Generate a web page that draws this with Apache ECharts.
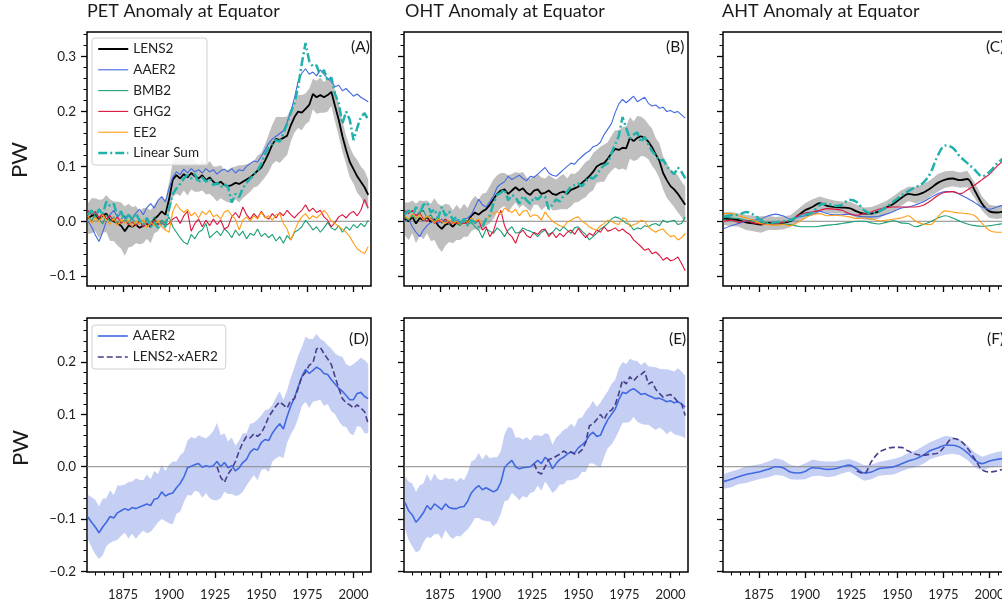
<!DOCTYPE html>
<html><head><meta charset="utf-8">
<script src="https://cdn.jsdelivr.net/npm/echarts@6/dist/echarts.min.js"></script>
<style>html,body{margin:0;padding:0;background:#fff}#c{width:1002px;height:605px}</style>
</head><body><div id="c"></div>
<script>
// ---------- x positions (years) ----------
const yearsAnnual = []; for (let y = 1856; y <= 2008; y += 2) yearsAnnual.push(y);
const yearsSmooth = []; for (let y = 1856; y <= 2008; y += 4) yearsSmooth.push(y);
const yearsX2 = []; for (let y = 1926; y <= 2008; y += 2) yearsX2.push(y);
const yearsX4 = []; for (let y = 1928; y <= 2008; y += 4) yearsX4.push(y);

// ---------- tick labels ----------
const xMajor = [1875, 1900, 1925, 1950, 1975, 2000];
const xMinor = [1860,1865,1870,1880,1885,1890,1895,1905,1910,1915,1920,1930,1935,1940,1945,1955,1960,1965,1970,1980,1985,1990,1995,2005];
const yMajorTop = [-0.1, 0, 0.1, 0.2, 0.3];
const yMinorTop = [-0.08,-0.06,-0.04,-0.02,0.02,0.04,0.06,0.08,0.12,0.14,0.16,0.18,0.22,0.24,0.26,0.28,0.32,0.34];
const yMajorBot = [-0.2, -0.1, 0, 0.1, 0.2];
const yMinorBot = [-0.18,-0.16,-0.14,-0.12,-0.08,-0.06,-0.04,-0.02,0.02,0.04,0.06,0.08,0.12,0.14,0.16,0.18,0.22,0.24,0.26,0.28];

// ---------- (A) PET ----------
const petLENS2 = [0.005,0.010,0.012,0.004,0.010,0.014,0.002,0.000,-0.004,-0.008,
-0.018,-0.008,-0.010,-0.006,-0.012,-0.008,-0.004,-0.010,0.004,0.010,
0.018,0.012,0.040,0.076,0.084,0.078,0.086,0.080,0.088,0.082,
0.078,0.084,0.075,0.080,0.072,0.068,0.072,0.066,0.064,0.066,
0.070,0.068,0.072,0.076,0.080,0.086,0.092,0.098,0.110,0.124,
0.140,0.150,0.148,0.152,0.156,0.175,0.190,0.200,0.198,0.205,
0.212,0.232,0.226,0.230,0.226,0.230,0.236,0.210,0.185,0.155,
0.130,0.108,0.095,0.082,0.072,0.062,0.048];
const petSpread = [0.028,0.032,0.030,0.035,0.030,0.034,0.038,0.036,0.040,0.042,
0.045,0.040,0.036,0.034,0.030,0.032,0.028,0.030,0.026,0.028,
0.025,0.028,0.030,0.032,0.034,0.032,0.030,0.033,0.030,0.028,
0.024,0.028,0.026,0.030,0.028,0.032,0.030,0.028,0.030,0.032,
0.030,0.034,0.030,0.028,0.026,0.024,0.028,0.026,0.030,0.034,
0.036,0.040,0.042,0.038,0.035,0.030,0.028,0.030,0.032,0.028,
0.030,0.028,0.030,0.032,0.028,0.030,0.026,0.028,0.030,0.028,
0.026,0.028,0.026,0.030,0.028,0.030,0.028];
const petAAER2 = [0.000,-0.010,-0.025,-0.037,-0.020,0.000,0.012,0.020,0.008,0.015,
0.005,0.012,0.004,0.015,0.022,0.012,0.025,0.032,0.024,0.038,
0.045,0.035,0.060,0.080,0.090,0.085,0.095,0.088,0.096,0.090,
0.094,0.088,0.096,0.090,0.094,0.086,0.092,0.095,0.090,0.096,
0.088,0.094,0.092,0.100,0.105,0.110,0.108,0.118,0.130,0.142,
0.150,0.155,0.160,0.165,0.180,0.200,0.225,0.255,0.270,0.278,
0.268,0.272,0.265,0.276,0.268,0.260,0.255,0.245,0.248,0.238,
0.242,0.235,0.228,0.232,0.226,0.222,0.218];
const petBMB2 = [0.010,0.000,0.015,0.005,-0.005,0.012,0.000,0.008,-0.006,0.004,
0.010,-0.004,0.006,-0.008,0.002,-0.010,0.004,-0.004,0.008,-0.006,
0.002,-0.004,0.008,-0.010,-0.020,-0.030,-0.038,-0.042,-0.024,-0.032,
-0.020,-0.016,-0.004,-0.030,-0.024,-0.018,-0.026,-0.014,-0.020,-0.030,
-0.016,-0.026,-0.018,-0.032,-0.022,-0.026,-0.014,-0.028,-0.022,-0.030,
-0.024,-0.036,-0.028,-0.040,-0.026,-0.034,-0.020,-0.016,-0.010,0.002,
-0.006,-0.016,-0.010,-0.020,-0.012,-0.002,-0.012,-0.016,-0.008,-0.020,
-0.010,-0.016,-0.006,-0.012,-0.004,-0.010,0.002];
const petGHG2 = [0.020,0.012,0.018,0.006,0.014,0.004,0.010,0.000,0.008,-0.004,
0.002,-0.006,-0.002,-0.008,0.000,-0.010,-0.004,-0.008,0.002,-0.006,
-0.002,-0.008,-0.004,0.004,0.008,-0.004,0.010,0.018,-0.018,-0.004,
0.004,-0.010,0.002,-0.008,0.004,-0.006,0.002,-0.014,-0.010,0.008,
0.016,0.006,0.026,0.012,0.004,0.014,0.006,0.018,0.008,0.004,
0.014,0.006,0.016,0.010,0.020,0.012,0.006,0.014,0.020,0.030,
0.018,0.024,0.016,0.020,0.008,0.002,-0.010,-0.002,0.008,0.012,
0.006,0.014,0.018,0.010,0.020,0.040,0.024];
const petEE2 = [0.010,-0.004,0.008,-0.002,0.012,0.002,-0.006,0.006,-0.008,0.004,
-0.004,0.002,-0.010,0.000,-0.006,0.004,-0.012,-0.002,-0.008,0.002,
-0.010,-0.016,-0.020,0.018,0.032,0.022,0.016,0.022,0.010,0.016,
0.006,0.018,0.012,0.020,0.008,0.012,0.004,0.017,0.020,0.010,
0.004,-0.016,0.002,0.008,0.000,0.010,0.004,0.017,0.006,0.010,
0.002,0.012,0.014,-0.004,-0.014,-0.034,-0.018,-0.002,0.008,0.014,
0.004,0.010,0.006,0.012,0.020,0.012,0.000,-0.004,-0.010,-0.014,
-0.020,-0.028,-0.040,-0.050,-0.055,-0.059,-0.046];
const petLinSum = [0.012,0.020,0.008,0.022,0.012,0.036,0.028,0.032,0.010,0.018,
0.000,0.012,0.004,0.014,0.002,-0.006,0.006,-0.010,-0.002,-0.012,
-0.004,-0.010,0.024,0.050,0.060,0.068,0.078,0.084,0.078,0.086,
0.070,0.080,0.072,0.078,0.066,0.070,0.062,0.068,0.062,0.034,
0.050,0.044,0.060,0.070,0.078,0.084,0.093,0.104,0.122,0.134,
0.142,0.148,0.145,0.160,0.178,0.198,0.215,0.245,0.288,0.325,
0.292,0.282,0.284,0.264,0.276,0.256,0.262,0.232,0.215,0.178,
0.200,0.185,0.148,0.170,0.190,0.197,0.185];

// ---------- (B) OHT ----------
const ohtLENS2 = [0.004,0.000,0.008,-0.004,0.006,0.002,0.008,-0.002,0.004,-0.008,
-0.014,-0.006,-0.004,-0.010,-0.002,-0.006,0.002,-0.002,0.010,0.016,
0.012,0.018,0.022,0.030,0.040,0.050,0.056,0.058,0.050,0.056,
0.062,0.056,0.060,0.052,0.048,0.056,0.058,0.050,0.052,0.056,
0.050,0.048,0.052,0.054,0.050,0.057,0.060,0.063,0.070,0.076,
0.082,0.090,0.100,0.104,0.106,0.114,0.124,0.132,0.130,0.134,
0.133,0.152,0.146,0.152,0.155,0.152,0.145,0.135,0.122,0.110,
0.088,0.075,0.064,0.058,0.050,0.040,0.030];
const ohtSpread = [0.030,0.034,0.030,0.036,0.032,0.035,0.030,0.034,0.038,0.040,
0.042,0.038,0.034,0.030,0.032,0.028,0.030,0.026,0.028,0.030,
0.028,0.032,0.030,0.034,0.036,0.034,0.032,0.030,0.034,0.030,
0.028,0.032,0.030,0.028,0.030,0.026,0.028,0.030,0.026,0.028,
0.030,0.028,0.030,0.032,0.028,0.030,0.026,0.028,0.030,0.032,
0.030,0.034,0.030,0.032,0.034,0.030,0.032,0.034,0.036,0.038,
0.040,0.038,0.036,0.040,0.036,0.034,0.032,0.034,0.030,0.032,
0.030,0.032,0.030,0.032,0.034,0.032,0.034];
const ohtAAER2 = [0.000,0.004,-0.010,-0.020,-0.028,-0.016,-0.008,-0.002,0.002,-0.004,
0.004,-0.002,0.000,-0.004,0.002,-0.002,0.004,0.006,0.012,0.026,
0.040,0.030,0.026,0.036,0.046,0.062,0.068,0.072,0.082,0.076,
0.080,0.084,0.078,0.074,0.082,0.080,0.086,0.092,0.098,0.088,
0.084,0.082,0.088,0.094,0.100,0.106,0.104,0.112,0.118,0.124,
0.128,0.136,0.138,0.144,0.158,0.168,0.178,0.198,0.214,0.222,
0.216,0.222,0.228,0.218,0.222,0.226,0.215,0.210,0.212,0.206,
0.208,0.200,0.202,0.198,0.200,0.194,0.188];
const ohtBMB2 = [0.008,0.002,0.012,0.004,0.016,0.020,0.006,0.012,0.000,0.008,
-0.004,0.004,-0.006,0.002,-0.004,-0.008,0.000,-0.006,-0.002,-0.010,
-0.016,-0.030,-0.014,-0.018,-0.022,-0.012,-0.018,-0.028,-0.016,-0.010,
-0.022,-0.020,-0.012,-0.016,-0.018,-0.022,-0.028,-0.020,-0.016,-0.024,
-0.020,-0.012,-0.018,-0.010,-0.016,-0.022,-0.012,-0.010,-0.018,-0.024,
-0.034,-0.028,-0.022,-0.014,-0.010,-0.004,0.004,0.008,0.006,0.002,
-0.004,-0.006,-0.016,-0.012,-0.014,-0.008,-0.010,-0.006,-0.004,-0.008,
0.002,-0.002,0.000,0.002,-0.006,-0.004,0.008];
const ohtGHG2 = [0.020,0.014,0.020,0.010,0.016,0.004,0.000,0.006,-0.004,0.002,
-0.002,0.004,-0.004,-0.002,-0.004,-0.003,-0.004,-0.002,0.002,-0.004,
0.002,-0.016,-0.010,-0.028,-0.018,0.004,0.020,-0.008,-0.022,-0.028,
-0.040,-0.022,-0.016,-0.026,-0.030,-0.020,-0.024,-0.016,-0.014,-0.028,
-0.020,-0.030,-0.022,-0.028,-0.020,-0.016,-0.024,-0.013,-0.022,-0.030,
-0.022,-0.026,-0.016,-0.020,-0.010,-0.018,-0.016,-0.012,-0.018,-0.014,
-0.020,-0.024,-0.034,-0.040,-0.046,-0.053,-0.050,-0.059,-0.056,-0.062,
-0.071,-0.066,-0.072,-0.070,-0.065,-0.077,-0.090];
const ohtEE2 = [0.010,0.004,0.014,0.006,0.012,0.002,0.010,0.004,-0.002,0.004,
0.000,-0.004,0.002,-0.004,0.000,-0.006,0.002,-0.002,0.006,0.000,
0.004,-0.006,0.002,0.010,0.014,0.018,0.012,0.024,0.020,0.016,
0.022,0.010,0.018,0.020,0.008,0.012,0.010,0.002,0.017,0.008,
0.000,-0.004,-0.008,-0.010,-0.002,0.002,0.006,0.008,0.000,-0.004,
-0.010,-0.014,-0.016,-0.008,-0.004,0.002,0.000,-0.004,-0.006,0.006,
0.004,-0.010,-0.006,-0.004,0.002,0.000,-0.010,-0.016,-0.020,-0.016,
-0.014,-0.022,-0.028,-0.026,-0.034,-0.030,-0.022];
const ohtLinSum = [0.012,0.020,0.008,0.026,0.014,0.030,0.034,0.016,0.022,0.006,
0.026,0.010,0.018,0.002,0.008,-0.004,0.004,-0.008,0.002,-0.002,
-0.010,-0.010,0.004,0.010,0.032,0.048,0.052,0.058,0.038,0.048,
0.044,0.032,0.046,0.038,0.032,0.044,0.040,0.046,0.045,0.022,
0.030,0.040,0.036,0.046,0.054,0.063,0.066,0.069,0.064,0.072,
0.080,0.078,0.084,0.096,0.102,0.106,0.124,0.140,0.156,0.190,
0.170,0.150,0.158,0.162,0.144,0.154,0.140,0.128,0.120,0.110,
0.112,0.100,0.092,0.086,0.098,0.090,0.078];

// ---------- (C) AHT (4-year samples) ----------
const ahtLENS2 = [0.005,0.004,0.002,-0.002,-0.004,-0.006,-0.003,-0.004,-0.003,0.000,0.010,0.020,0.026,0.033,0.028,0.026,0.025,0.024,0.018,0.014,0.014,0.018,0.025,0.032,0.042,0.050,0.048,0.052,0.060,0.070,0.076,0.078,0.075,0.077,0.056,0.032,0.018,0.016,0.018];
const ahtSpread = [0.012,0.013,0.012,0.014,0.014,0.015,0.013,0.012,0.012,0.011,0.012,0.013,0.014,0.012,0.013,0.012,0.011,0.012,0.012,0.011,0.012,0.013,0.012,0.014,0.014,0.013,0.015,0.016,0.015,0.016,0.015,0.014,0.014,0.015,0.014,0.013,0.012,0.012,0.012];
const ahtAAER2 = [-0.013,-0.008,-0.004,0.000,0.002,0.004,0.010,0.013,0.010,0.004,0.008,0.010,0.012,0.018,0.014,0.012,0.012,0.013,0.010,0.008,0.008,0.009,0.013,0.018,0.024,0.026,0.030,0.035,0.043,0.050,0.054,0.054,0.049,0.042,0.034,0.026,0.022,0.026,0.030];
const ahtBMB2 = [0.008,0.006,0.005,0.002,0.000,-0.002,-0.004,-0.005,-0.005,-0.006,-0.009,-0.010,-0.010,-0.009,-0.007,-0.006,-0.004,-0.002,0.000,0.000,-0.003,-0.005,-0.002,0.001,-0.003,-0.004,-0.010,-0.006,-0.001,0.006,0.010,0.006,0.000,-0.005,-0.008,-0.009,-0.008,-0.006,-0.004];
const ahtGHG2 = [0.000,0.002,-0.002,0.001,-0.003,-0.005,-0.006,-0.004,-0.002,0.002,0.010,0.015,0.017,0.020,0.023,0.022,0.020,0.014,0.011,0.014,0.017,0.022,0.025,0.026,0.026,0.026,0.026,0.029,0.037,0.047,0.053,0.054,0.050,0.057,0.066,0.076,0.086,0.100,0.112];
const ahtEE2 = [0.014,0.014,0.010,0.006,0.002,-0.004,-0.006,-0.007,-0.006,-0.008,-0.002,0.006,0.012,0.014,0.010,0.011,0.010,0.008,0.005,0.006,0.004,0.001,0.002,0.004,0.006,0.010,0.000,-0.005,-0.006,0.008,0.019,0.017,0.015,0.014,0.010,-0.004,-0.017,-0.020,-0.020];
const ahtLinSum = [0.008,0.011,0.012,0.017,0.012,0.002,-0.003,-0.002,0.000,0.002,0.008,0.012,0.016,0.030,0.032,0.028,0.030,0.039,0.035,0.020,0.014,0.018,0.026,0.036,0.046,0.055,0.062,0.070,0.088,0.120,0.138,0.134,0.118,0.106,0.094,0.082,0.090,0.105,0.116];

// ---------- (D) PET, AAER2 vs LENS2-xAER2 ----------
const dAAER2 = [-0.096,-0.106,-0.115,-0.126,-0.115,-0.106,-0.095,-0.098,-0.088,-0.084,
-0.080,-0.083,-0.078,-0.080,-0.077,-0.074,-0.071,-0.074,-0.062,-0.060,
-0.048,-0.056,-0.052,-0.050,-0.040,-0.032,-0.020,-0.002,0.001,0.004,
0.006,-0.001,0.002,0.000,0.002,0.010,0.000,0.008,-0.002,0.002,
-0.008,-0.002,0.008,0.014,0.028,0.034,0.032,0.046,0.052,0.050,
0.064,0.074,0.082,0.072,0.096,0.116,0.132,0.152,0.172,0.186,
0.178,0.184,0.190,0.186,0.178,0.176,0.166,0.158,0.150,0.144,
0.136,0.128,0.128,0.140,0.142,0.134,0.130];
const dSpread = [0.042,0.048,0.052,0.050,0.054,0.046,0.050,0.044,0.052,0.048,
0.046,0.054,0.050,0.058,0.052,0.048,0.056,0.050,0.054,0.046,
0.052,0.048,0.056,0.060,0.050,0.054,0.048,0.052,0.056,0.050,
0.054,0.058,0.052,0.060,0.066,0.074,0.060,0.056,0.050,0.054,
0.048,0.052,0.056,0.050,0.054,0.050,0.058,0.052,0.056,0.060,
0.054,0.058,0.062,0.056,0.050,0.054,0.058,0.060,0.056,0.062,
0.066,0.060,0.064,0.058,0.062,0.056,0.060,0.058,0.062,0.066,
0.060,0.064,0.068,0.062,0.066,0.070,0.066];
const dXAER2 = [0.000,-0.020,-0.030,-0.014,-0.004,0.010,0.030,0.046,0.058,0.055,
0.063,0.058,0.064,0.078,0.095,0.106,0.116,0.124,0.118,0.112,
0.126,0.130,0.150,0.172,0.180,0.194,0.198,0.225,0.228,0.216,
0.206,0.195,0.172,0.150,0.130,0.122,0.118,0.112,0.118,0.112,
0.105,0.082];

// ---------- (E) OHT ----------
const eAAER2 = [-0.068,-0.084,-0.092,-0.106,-0.098,-0.088,-0.074,-0.082,-0.071,-0.076,
-0.082,-0.071,-0.078,-0.080,-0.080,-0.077,-0.076,-0.066,-0.050,-0.042,
-0.036,-0.044,-0.040,-0.044,-0.048,-0.044,-0.030,-0.002,0.006,0.012,
0.000,-0.004,-0.002,-0.001,0.000,0.006,0.012,0.006,0.018,0.012,
-0.004,0.006,0.014,0.018,0.024,0.028,0.026,0.036,0.042,0.048,
0.060,0.066,0.058,0.060,0.076,0.090,0.100,0.110,0.128,0.142,
0.140,0.146,0.149,0.144,0.138,0.140,0.136,0.133,0.130,0.131,
0.128,0.124,0.126,0.122,0.124,0.120,0.114];
const eSpread = [0.050,0.056,0.060,0.058,0.062,0.056,0.060,0.054,0.058,0.052,
0.056,0.050,0.054,0.058,0.052,0.056,0.050,0.054,0.060,0.056,
0.062,0.058,0.064,0.060,0.066,0.062,0.060,0.064,0.070,0.062,
0.056,0.060,0.054,0.058,0.050,0.054,0.048,0.052,0.046,0.050,
0.046,0.050,0.048,0.052,0.050,0.054,0.050,0.056,0.052,0.058,
0.054,0.060,0.056,0.062,0.058,0.054,0.058,0.056,0.060,0.058,
0.056,0.060,0.054,0.058,0.056,0.060,0.056,0.058,0.060,0.056,
0.058,0.062,0.058,0.060,0.064,0.062,0.060];
const eXAER2 = [0.006,-0.010,-0.014,0.000,0.014,0.016,0.020,0.024,0.030,0.026,
0.028,0.024,0.026,0.032,0.046,0.078,0.082,0.090,0.100,0.090,
0.104,0.108,0.118,0.140,0.165,0.158,0.172,0.164,0.172,0.176,
0.182,0.158,0.162,0.148,0.140,0.133,0.136,0.138,0.132,0.124,
0.120,0.098];

// ---------- (F) AHT (4-year samples) ----------
const fAAER2 = [-0.028,-0.024,-0.019,-0.015,-0.012,-0.009,-0.005,0.000,-0.002,-0.010,-0.012,-0.009,-0.002,-0.003,-0.005,-0.004,0.000,0.003,-0.004,-0.012,-0.010,-0.004,-0.002,0.000,0.005,0.011,0.015,0.022,0.031,0.036,0.041,0.041,0.037,0.027,0.013,0.006,0.011,0.014,0.016];
const fSpread = [0.014,0.015,0.014,0.016,0.015,0.014,0.015,0.016,0.015,0.014,0.013,0.015,0.016,0.014,0.015,0.014,0.013,0.012,0.014,0.015,0.014,0.013,0.014,0.015,0.014,0.015,0.016,0.017,0.016,0.017,0.018,0.016,0.015,0.014,0.014,0.013,0.013,0.014,0.014];
const fXAER2 = [-0.008,-0.013,0.010,0.027,0.034,0.037,0.037,0.030,0.024,0.022,0.024,0.026,0.040,0.054,0.050,0.036,0.015,-0.006,-0.010,-0.008,-0.004];

// ---------- styling ----------
const FONT = 'Lato';
const TXT = '#222';
const C_LENS = '#000000', C_AAER = '#4169e1', C_BMB = '#1b9e77', C_GHG = '#dc143c', C_EE = '#ff9d14', C_SUM = '#20b2aa';
const C_XAER = '#483d8b', C_BAND_G = '#bfbfbf', C_BAND_B = '#c5cff4';
const xMin = 1855.5, xMax = 2009.5;
const topRange = [-0.118, 0.345], botRange = [-0.201, 0.284];

const grids = [
  {left: 87, top: 32}, {left: 404, top: 32}, {left: 723, top: 32},
  {left: 87, top: 318}, {left: 404, top: 318}, {left: 723, top: 318}
].map(g => ({left: g.left, top: g.top, width: 284, height: 254, show: true,
  borderColor: '#000', borderWidth: 1.5, backgroundColor: 'transparent',
  containLabel: false, outerBoundsMode: 'none'}));

const fmtY = v => (v < 0 ? '\u2212' : '') + Math.abs(v).toFixed(1);
const xAxis = [], yAxis = [];
const noLine = {show: false, onZero: false};
for (let g = 0; g < 6; g++) {
  const bottomRow = g >= 3, leftCol = g % 3 === 0;
  const rng = bottomRow ? botRange : topRange;
  xAxis.push({type: 'value', gridIndex: g, min: xMin, max: xMax, position: 'bottom',
    axisLine: noLine, splitLine: {show: false},
    axisTick: {show: true, customValues: xMajor, length: 6, lineStyle: {color: '#000', width: 1.3}},
    axisLabel: {show: bottomRow, customValues: xMajor, margin: 16, fontSize: 13, color: TXT, fontFamily: FONT,
      formatter: v => String(v)}});
  xAxis.push({type: 'value', gridIndex: g, min: xMin, max: xMax, position: 'bottom',
    axisLine: noLine, splitLine: {show: false}, axisLabel: {show: false},
    axisTick: {show: true, customValues: xMinor, length: 3.5, lineStyle: {color: '#000', width: 1}}});
  const ym = bottomRow ? yMajorBot : yMajorTop, yn = bottomRow ? yMinorBot : yMinorTop;
  yAxis.push({type: 'value', gridIndex: g, min: rng[0], max: rng[1], position: 'left',
    axisLine: noLine, splitLine: {show: false},
    axisTick: {show: true, customValues: ym, length: 6, lineStyle: {color: '#000', width: 1.3}},
    axisLabel: {show: leftCol, customValues: ym, margin: 11, fontSize: 13.5, color: TXT, fontFamily: FONT, formatter: fmtY}});
  yAxis.push({type: 'value', gridIndex: g, min: rng[0], max: rng[1], position: 'left',
    axisLine: noLine, splitLine: {show: false}, axisLabel: {show: false},
    axisTick: {show: true, customValues: yn, length: 3.5, lineStyle: {color: '#000', width: 1}}});
}

function line(g, name, xs, ys, color, width, dash, smooth) {
  return {type: 'line', name, xAxisIndex: 2 * g, yAxisIndex: 2 * g,
    data: xs.map((x, i) => [x, ys[i]]), symbol: 'none', showSymbol: false,
    smooth: smooth ? 0.35 : false, animation: false, silent: true, clip: true, z: 3,
    lineStyle: {color, width, type: dash || 'solid'}, itemStyle: {color}, emphasis: {disabled: true}};
}
function band(g, xs, mid, spr, color) {
  const data = xs.map((x, i) => [x, mid[i] - spr[i], mid[i] + spr[i]]);
  return {type: 'custom', xAxisIndex: 2 * g, yAxisIndex: 2 * g, silent: true, animation: false, z: 1,
    data, encode: {x: 0, y: [1, 2]},
    renderItem(params, api) {
      if (params.dataIndex !== 0) return null;
      const pts = [];
      for (let i = 0; i < data.length; i++) pts.push(api.coord([data[i][0], data[i][1]]));
      for (let i = data.length - 1; i >= 0; i--) pts.push(api.coord([data[i][0], data[i][2]]));
      return {type: 'polygon', shape: {points: pts}, style: {fill: color}};
    }};
}
function zero(g) {
  return {type: 'line', name: 'zero' + g, xAxisIndex: 2 * g, yAxisIndex: 2 * g,
    data: [[xMin, 0], [xMax, 0]], symbol: 'none', silent: true, animation: false, z: 2,
    lineStyle: {color: '#888', width: 1}};
}
const DASHDOT = [9, 3, 2, 3], DASH = [6, 3];

const series = [];
const topSets = [
  [petLENS2, petSpread, petAAER2, petBMB2, petGHG2, petEE2, petLinSum, yearsAnnual, false],
  [ohtLENS2, ohtSpread, ohtAAER2, ohtBMB2, ohtGHG2, ohtEE2, ohtLinSum, yearsAnnual, false],
  [ahtLENS2, ahtSpread, ahtAAER2, ahtBMB2, ahtGHG2, ahtEE2, ahtLinSum, yearsSmooth, true]
];
topSets.forEach((s, g) => {
  const [lens, spr, aaer, bmb, ghg, ee, sum, xs, sm] = s;
  series.push(band(g, xs, lens, spr, C_BAND_G));
  series.push(zero(g));
  series.push(line(g, 'LENS2', xs, lens, C_LENS, 1.8, null, sm));
  series.push(line(g, 'AAER2', xs, aaer, C_AAER, 1.1, null, sm));
  series.push(line(g, 'BMB2', xs, bmb, C_BMB, 1.1, null, sm));
  series.push(line(g, 'GHG2', xs, ghg, C_GHG, 1.1, null, sm));
  series.push(line(g, 'EE2', xs, ee, C_EE, 1.1, null, sm));
  series.push(line(g, 'Linear Sum', xs, sum, C_SUM, 2.5, DASHDOT, sm));
});
const botSets = [
  [dAAER2, dSpread, dXAER2, yearsAnnual, yearsX2, false],
  [eAAER2, eSpread, eXAER2, yearsAnnual, yearsX2, false],
  [fAAER2, fSpread, fXAER2, yearsSmooth, yearsX4, true]
];
botSets.forEach((s, k) => {
  const g = k + 3;
  const [aaer, spr, xaer, xs, xs2, sm] = s;
  series.push(band(g, xs, aaer, spr, C_BAND_B));
  series.push(zero(g));
  series.push(line(g, 'AAER2 ', xs, aaer, C_AAER, 1.6, null, sm));
  series.push(line(g, 'LENS2-xAER2', xs2, xaer, C_XAER, 1.6, DASH, sm));
});

const hiddenSymbol = {color: 'rgba(0,0,0,0)', borderColor: 'rgba(0,0,0,0)', borderWidth: 0, opacity: 0};
const legendCommon = {orient: 'vertical', itemWidth: 30, itemHeight: 14, selectedMode: false,
  backgroundColor: 'rgba(255,255,255,0.85)', borderColor: '#cfcfcf', borderWidth: 1, borderRadius: 3,
  itemStyle: hiddenSymbol,
  textStyle: {fontFamily: FONT, fontSize: 13.5, color: TXT}, z: 20};
const legend = [
  Object.assign({}, legendCommon, {left: 92, top: 38, padding: [4, 8, 5, 5], itemGap: 6.8,
    data: [
      {name: 'LENS2', itemStyle: hiddenSymbol, lineStyle: {color: C_LENS, width: 2}},
      {name: 'AAER2', itemStyle: hiddenSymbol, lineStyle: {color: C_AAER, width: 1.1}},
      {name: 'BMB2', itemStyle: hiddenSymbol, lineStyle: {color: C_BMB, width: 1.1}},
      {name: 'GHG2', itemStyle: hiddenSymbol, lineStyle: {color: C_GHG, width: 1.1}},
      {name: 'EE2', itemStyle: hiddenSymbol, lineStyle: {color: C_EE, width: 1.1}},
      {name: 'Linear Sum', itemStyle: hiddenSymbol, lineStyle: {color: C_SUM, width: 2.5, type: DASHDOT}}
    ]}),
  Object.assign({}, legendCommon, {left: 92, top: 325, padding: [4, 8, 5, 5], itemGap: 7,
    data: [
      {name: 'AAER2 ', itemStyle: hiddenSymbol, lineStyle: {color: C_AAER, width: 1.6}},
      {name: 'LENS2-xAER2', itemStyle: hiddenSymbol, lineStyle: {color: C_XAER, width: 1.6, type: DASH}}
    ]})
];

const titles = ['PET Anomaly at Equator', 'OHT Anomaly at Equator', 'AHT Anomaly at Equator'];
const titleLeft = [87, 405, 722];
const panelLabels = ['(A)', '(B)', '(C)', '(D)', '(E)', '(F)'];
const panelPos = [[351, 39], [666, 39], [986, 39], [349, 331], [669, 331], [987, 331]];
const graphic = [];
titles.forEach((t, i) => graphic.push({type: 'text', left: titleLeft[i], top: 2, z: 100,
  style: {text: t, fontSize: 18, fontFamily: FONT, fill: '#1a1a1a'}}));
panelLabels.forEach((t, i) => graphic.push({type: 'text', x: panelPos[i][0], y: panelPos[i][1], z: 100,
  style: {text: t, fontSize: 15.5, fontFamily: FONT, fill: '#1a1a1a'}}));
[[20, 160], [21, 448]].forEach(p => graphic.push({type: 'text', x: p[0], y: p[1], rotation: Math.PI / 2, z: 100,
  style: {text: 'PW', fontSize: 22, fontFamily: FONT, fill: '#1a1a1a', align: 'center', verticalAlign: 'middle'}}));

const chart = echarts.init(document.getElementById('c'), null, {renderer: 'canvas'});
chart.setOption({animation: false, backgroundColor: '#fff', grid: grids, xAxis, yAxis, series, legend, graphic,
  textStyle: {fontFamily: FONT}});
</script></body></html>
